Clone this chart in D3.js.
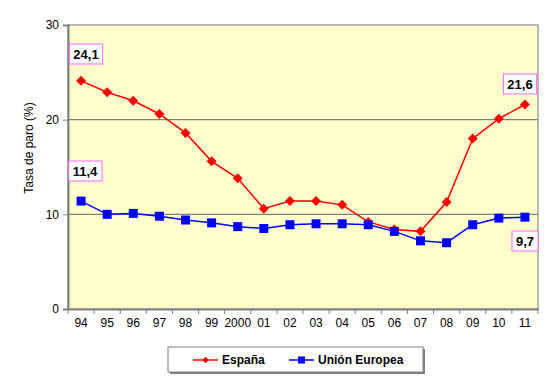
<!DOCTYPE html>
<html>
<head>
<meta charset="utf-8">
<script src="https://cdn.jsdelivr.net/npm/d3@7"></script>
<style>
  body { margin: 0; background: #fff; }
  text { font-family: "Liberation Sans", Arial, sans-serif; }
</style>
</head>
<body>
<svg id="chart"></svg>
<script>
// Data
const years = ['94', '95', '96', '97', '98', '99', '2000', '01', '02', '03', '04', '05', '06', '07', '08', '09', '10', '11'];
const espana = [24.1, 22.9, 22.0, 20.6, 18.6, 15.6, 13.8, 10.6, 11.4, 11.4, 11.0, 9.2, 8.4, 8.2, 11.3, 18.0, 20.1, 21.6];
const ue = [11.4, 10.0, 10.1, 9.8, 9.4, 9.1, 8.7, 8.5, 8.9, 9.0, 9.0, 8.9, 8.2, 7.2, 7.0, 8.9, 9.6, 9.7];
const yTicks = [0, 10, 20, 30];
const seriesNames = ['España', 'Unión Europea'];

const width = 550;
const height = 381;
const plot = { left: 68, right: 538, top: 25, bottom: 309 };

const svg = d3.select('#chart')
  .attr('width', width)
  .attr('height', height);

const xScale = d3.scaleBand()
  .domain(years)
  .range([plot.left, plot.right]);

const yScale = d3.scaleLinear()
  .domain([0, 30])
  .range([plot.bottom, plot.top]);

// Plot background
svg.append('rect')
  .attr('x', plot.left)
  .attr('y', plot.top)
  .attr('width', plot.right - plot.left)
  .attr('height', plot.bottom - plot.top)
  .attr('fill', '#ffffcc')
  .attr('stroke', '#a0a0a0')
  .attr('stroke-width', 1.5);

// Grid lines
svg.append('g')
  .selectAll('line')
  .data(yTicks.filter(d => d > 0 && d < 30))
  .join('line')
  .attr('x1', plot.left)
  .attr('x2', plot.right)
  .attr('y1', d => yScale(d))
  .attr('y2', d => yScale(d))
  .attr('stroke', '#808080')
  .attr('stroke-width', 1.2);

// Y axis
const yAxis = svg.append('g')
  .attr('transform', `translate(${plot.left}, 0)`)
  .call(d3.axisLeft(yScale).tickValues(yTicks).tickSize(5).tickPadding(4));
yAxis.select('.domain').attr('stroke', '#808080').attr('stroke-width', 2);
yAxis.selectAll('.tick line').attr('stroke', '#808080');
yAxis.selectAll('.tick text')
  .attr('font-size', 12)
  .attr('fill', '#000')
  .style('font-family', '"Liberation Sans", Arial, sans-serif');

// X axis: ticks sit between categories
const xAxis = svg.append('g')
  .attr('transform', `translate(0, ${plot.bottom})`)
  .call(d3.axisBottom(xScale).tickSize(0).tickPadding(9));
xAxis.select('.domain').attr('stroke', '#808080').attr('stroke-width', 2);
xAxis.selectAll('.tick text')
  .attr('font-size', 12)
  .attr('fill', '#000')
  .style('font-family', '"Liberation Sans", Arial, sans-serif');
xAxis.selectAll('.sep')
  .data(years.concat(['end']))
  .join('line')
  .attr('class', 'sep')
  .attr('x1', (d, i) => plot.left + i * xScale.step())
  .attr('x2', (d, i) => plot.left + i * xScale.step())
  .attr('y1', 0)
  .attr('y2', 5)
  .attr('stroke', '#808080');

// Y axis title
svg.append('text')
  .attr('transform', `translate(33, ${(plot.top + plot.bottom) / 2 - 19}) rotate(-90)`)
  .attr('text-anchor', 'middle')
  .attr('font-size', 12)
  .text('Tasa de paro (%)');

const cx = d => xScale(d) + xScale.bandwidth() / 2;

const line = values => d3.line()
  .x((d, i) => cx(years[i]))
  .y(d => yScale(d))(values);

// España
svg.append('path')
  .attr('d', line(espana))
  .attr('fill', 'none')
  .attr('stroke', '#ff0000')
  .attr('stroke-width', 1.5);
svg.append('g')
  .selectAll('path')
  .data(espana)
  .join('path')
  .attr('d', d3.symbol(d3.symbolSquare, 50))
  .attr('transform', (d, i) => `translate(${cx(years[i])}, ${yScale(d)}) rotate(45)`)
  .attr('fill', '#ff0000');

// Unión Europea
svg.append('path')
  .attr('d', line(ue))
  .attr('fill', 'none')
  .attr('stroke', '#0000ff')
  .attr('stroke-width', 1.5);
svg.append('g')
  .selectAll('rect')
  .data(ue)
  .join('rect')
  .attr('x', (d, i) => cx(years[i]) - 4.5)
  .attr('y', d => yScale(d) - 4.5)
  .attr('width', 9)
  .attr('height', 9)
  .attr('fill', '#0000ff');

// Value labels
const labels = [
  { value: espana[0], x: 86, y: 54 },
  { value: ue[0], x: 85, y: 171 },
  { value: espana[espana.length - 1], x: 520, y: 84 },
  { value: ue[ue.length - 1], x: 525, y: 241 }
];
const fmt = v => d3.format('.1f')(v).replace('.', ',');
const lab = svg.append('g')
  .selectAll('g')
  .data(labels)
  .join('g')
  .attr('transform', d => `translate(${d.x}, ${d.y})`);
lab.append('rect')
  .attr('fill', '#fff')
  .attr('stroke', '#ff66ff')
  .attr('stroke-width', 1);
lab.append('text')
  .attr('text-anchor', 'middle')
  .attr('dy', '0.36em')
  .attr('font-size', 13)
  .attr('font-weight', 'bold')
  .text(d => fmt(d.value));
lab.each(function () {
  const g = d3.select(this);
  const bb = g.select('text').node().getBBox();
  g.select('rect')
    .attr('x', bb.x - 4)
    .attr('y', -10)
    .attr('width', bb.width + 8)
    .attr('height', 20);
});

// Legend
const legend = svg.append('g');
legend.append('rect')
  .attr('x', 170)
  .attr('y', 349)
  .attr('width', 255)
  .attr('height', 25)
  .attr('fill', '#808080');
legend.append('rect')
  .attr('x', 168)
  .attr('y', 347)
  .attr('width', 255)
  .attr('height', 25)
  .attr('fill', '#fff')
  .attr('stroke', '#808080');

const legendItems = [
  { name: seriesNames[0], color: '#ff0000', x: 193 },
  { name: seriesNames[1], color: '#0000ff', x: 289 }
];
const li = legend.selectAll('.item')
  .data(legendItems)
  .join('g')
  .attr('class', 'item')
  .attr('transform', d => `translate(${d.x}, 360)`);
li.append('line')
  .attr('x1', 0)
  .attr('x2', 25)
  .attr('stroke', d => d.color)
  .attr('stroke-width', 1.5);
li.filter((d, i) => i === 0).append('path')
  .attr('d', d3.symbol(d3.symbolSquare, 20))
  .attr('transform', 'translate(12.5, 0) rotate(45)')
  .attr('fill', d => d.color);
li.filter((d, i) => i === 1).append('rect')
  .attr('x', 9)
  .attr('y', -3.5)
  .attr('width', 7)
  .attr('height', 7)
  .attr('fill', d => d.color);
li.append('text')
  .attr('x', 29)
  .attr('dy', '0.36em')
  .attr('font-size', 12)
  .attr('font-weight', 'bold')
  .text(d => d.name);
</script>
</body>
</html>
